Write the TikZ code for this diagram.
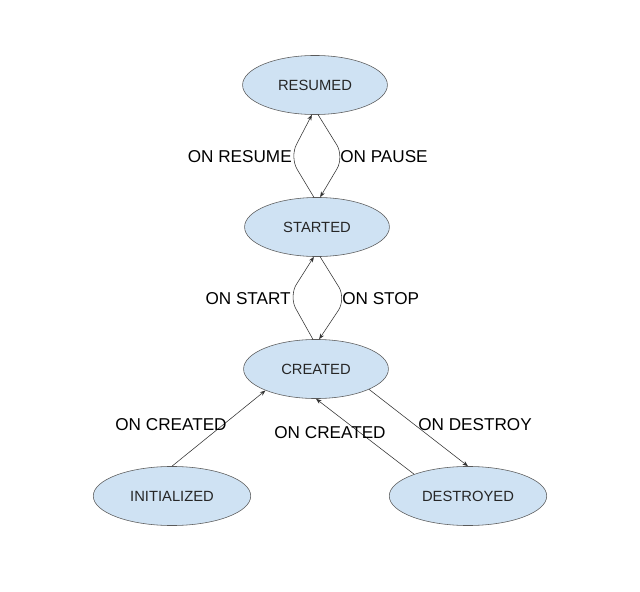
\documentclass[tikz,border=0pt]{standalone}
\usepackage{fontspec}
\setmainfont{Liberation Sans}
\usetikzlibrary{shapes.geometric,arrows.meta}
\definecolor{statefill}{RGB}{207,226,243}
\definecolor{stateline}{RGB}{90,90,90}
\definecolor{arrowline}{RGB}{51,51,51}
\tikzset{
  state/.style={ellipse,draw=stateline,fill=statefill,minimum width=103pt,minimum height=42pt,inner sep=0pt,text=black!85,font=\fontsize{10.5}{12}\selectfont},
  widestate/.style={state,minimum width=112pt},
  trans/.style={draw=arrowline,-{Stealth[length=4pt,width=3pt]}},
  lbl/.style={inner sep=0pt,font=\fontsize{12.2}{14}\selectfont}
}
\begin{document}
\begin{tikzpicture}[x=0.025cm,y=-0.025cm]
\useasboundingbox (0,0) rectangle (640,592);
% states
\node[state] (resumed) at (315,85) {RESUMED};
\node[state] (started) at (317,227) {STARTED};
\node[state] (created) at (316,369) {CREATED};
\node[widestate] (initialized) at (172,496) {INITIALIZED};
\node[widestate] (destroyed) at (468,496) {DESTROYED};
% transitions
\draw[trans,rounded corners=10pt] (started.96) -- ++(-24,-40) -- (resumed.264);
\draw[trans,rounded corners=10pt] (resumed.276) -- ++(26,42) -- (started.84);
\draw[trans,rounded corners=10pt] (created.96) -- ++(-24,-43) -- (started.264);
\draw[trans,rounded corners=10pt] (started.276) -- ++(26,42) -- (created.84);
\draw[trans] (initialized.north) -- (created.203);
\draw[trans] (destroyed.158) -- (created.south);
\draw[trans] (created.339) -- (destroyed.north);
% labels
\node[lbl,anchor=east] (onresume) at (292,157) {ON RESUME};
\node[lbl,anchor=west] (onpause) at (340,157) {ON PAUSE};
\node[lbl,anchor=east] (onstart) at (291,299) {ON START};
\node[lbl,anchor=west] (onstop) at (342,299) {ON STOP};
\node[lbl] (oncreatedleft) at (171,425) {ON CREATED};
\node[lbl] (oncreatedmid) at (330,433) {ON CREATED};
\node[lbl] (ondestroy) at (475,425) {ON DESTROY};
\end{tikzpicture}
\end{document}
